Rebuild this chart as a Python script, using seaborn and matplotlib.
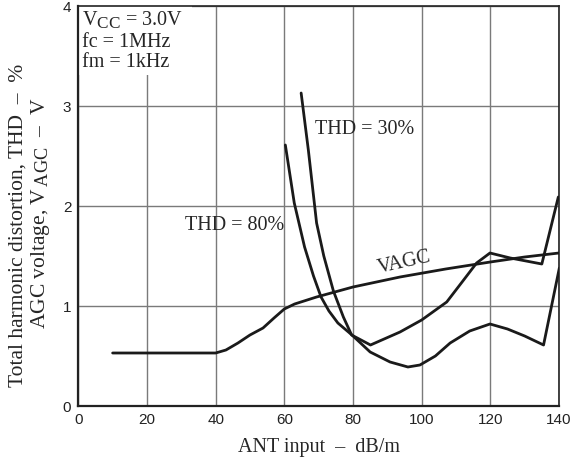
import matplotlib
matplotlib.use("Agg")
import matplotlib.pyplot as plt
import matplotlib._mathtext as _mathtext
import seaborn as sns
import pandas as pd
from matplotlib.patches import Rectangle

# ANT input (dB/m) and AGC voltage (V)
vagc_x = [10, 40, 43, 46.5, 50, 53.8, 57, 60, 63, 69.4, 80, 93.7, 107, 120, 130, 140]
vagc_y = [0.53, 0.53, 0.56, 0.63, 0.71, 0.78, 0.88, 0.97, 1.02, 1.09, 1.19, 1.29, 1.37, 1.44, 1.49, 1.53]

# THD = 80 % contour
thd80_x = [60.3, 62.9, 65.9, 68.5, 70.7, 73, 75.6, 79.7, 85, 90.8, 96, 99.5, 104, 108.3, 114,
           119.9, 125, 130, 135.5, 140.1]
thd80_y = [2.61, 2.03, 1.59, 1.3, 1.09, 0.95, 0.83, 0.71, 0.54, 0.44, 0.39, 0.41, 0.5, 0.63, 0.75,
           0.82, 0.77, 0.70, 0.61, 1.38]

# THD = 30 % contour
thd30_x = [64.9, 67, 69.4, 71.5, 74.3, 77.2, 79.6, 85.1, 93.7, 100, 107.3, 112, 116, 119.9,
           125.8, 135, 139.8]
thd30_y = [3.13, 2.56, 1.83, 1.5, 1.15, 0.89, 0.71, 0.61, 0.74, 0.86, 1.04, 1.25, 1.43, 1.53,
           1.48, 1.42, 2.09]

x_ticks = [0, 20, 40, 60, 80, 100, 120, 140]
y_ticks = [0, 1, 2, 3, 4]

sns.set_theme(style="white")
plt.rcParams["font.family"] = ["Liberation Serif", "DejaVu Serif"]
plt.rcParams["mathtext.fontset"] = "custom"
plt.rcParams["mathtext.rm"] = "Liberation Serif"
plt.rcParams["mathtext.it"] = "Liberation Serif"
# larger subscripts (V_CC, V_AGC)
_mathtext.SHRINK_FACTOR = 0.85

fig = plt.figure(figsize=(5.74, 4.59), dpi=100)
ax = fig.add_axes([78.3 / 574, 53 / 459, (559 - 78.3) / 574, 400 / 459])

series = {
    "VAGC": (vagc_x, vagc_y),
    "THD80": (thd80_x, thd80_y),
    "THD30": (thd30_x, thd30_y),
}
for name, (xs, ys) in series.items():
    df = pd.DataFrame({"x": xs, "y": ys})
    sns.lineplot(data=df, x="x", y="y", ax=ax, sort=False, estimator=None,
                 color="#1a1a1a", linewidth=2.0, zorder=3)

ax.set_xlim(0, 140)
ax.set_ylim(0, 4)
ax.set_xticks(x_ticks)
ax.set_yticks(y_ticks)
ax.set_xticklabels([str(t) for t in x_ticks], fontfamily="Liberation Sans", fontsize=11)
ax.set_yticklabels([str(t) for t in y_ticks], fontfamily="Liberation Sans", fontsize=11)
ax.tick_params(axis="both", length=0, pad=5, colors="#222222")
ax.grid(True, color="#7a7a7a", linewidth=1.0)
ax.set_axisbelow(True)
for sp in ax.spines.values():
    sp.set_color("#222222")
    sp.set_linewidth(1.2)
ax.spines["left"].set_linewidth(1.6)
ax.spines["bottom"].set_linewidth(1.6)

FS = 14.5

# condition block in the upper-left corner
ax.add_patch(Rectangle((0, 3.31), 33, 0.69, facecolor="white", edgecolor="none", zorder=1.5))
ax.text(1.2, 3.81, r"V$_{\mathregular{CC}}$ = 3.0V", fontsize=FS, va="baseline", ha="left", zorder=4)
ax.text(1.2, 3.59, "fc = 1MHz", fontsize=FS, va="baseline", ha="left", zorder=4)
ax.text(1.2, 3.39, "fm = 1kHz", fontsize=FS, va="baseline", ha="left", zorder=4)

ax.text(69, 2.76, "THD = 30%", fontsize=FS, va="center", ha="left", zorder=4)
ax.text(31.2, 1.81, "THD = 80%", fontsize=FS, va="center", ha="left", zorder=4)
ax.text(95.1, 1.43, "VAGC", fontsize=FS, va="center", ha="center", rotation=12.5,
        rotation_mode="anchor", zorder=4)

ax.set_xlabel("ANT input  –  dB/m", fontsize=FS, labelpad=8)
ax.set_ylabel("")
fig.text(18 / 574, 1 - 225 / 459, "Total harmonic distortion, THD  –  %", rotation=90,
         fontsize=15.5, ha="center", va="center")
fig.text(41 / 574, 1 - 213 / 459, r"AGC voltage, V$_{\mathregular{\,AGC}}$  –  V", rotation=90,
         fontsize=15.5, ha="center", va="center")

fig.savefig("out.png", dpi=100)
